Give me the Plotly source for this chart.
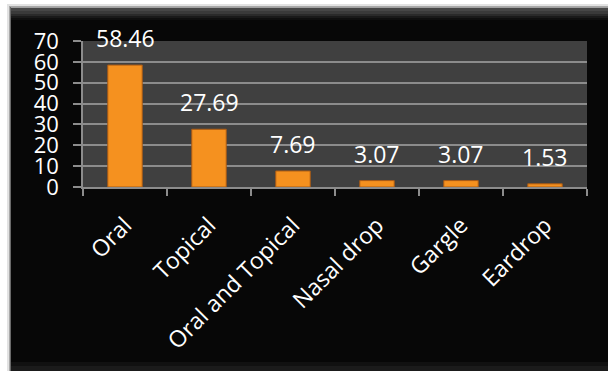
import plotly.graph_objects as go

categories = ["Oral", "Topical", "Oral and Topical", "Nasal drop", "Gargle", "Eardrop"]
values = [58.46, 27.69, 7.69, 3.07, 3.07, 1.53]
label_texts = ["58.46", "27.69", "7.69", "3.07", "3.07", "1.53"]
y_ticks = [0, 10, 20, 30, 40, 50, 60, 70]

W, H = 608, 371
L, R, T, B = 83, 21, 41, 184
PW = W - L - R
PH = H - T - B


def px(x):
    return (x - L) / PW


def py(y):
    return (H - B - y) / PH


def rect(x0, y0, x1, y1, color):
    return dict(type="rect", xref="paper", yref="paper", layer="below",
                x0=px(x0), x1=px(x1), y0=py(y1), y1=py(y0),
                fillcolor=color, line=dict(width=0))


shapes = [
    rect(7, 4, W, H, "#e2e2e2"),
    rect(9, 6, W, H, "#a8a8a8"),
    rect(10, 7, W, H, "#070707"),
    rect(10, 7, W, 8, "#a0a0a0"),
    rect(10, 8, W, 11, "#474747"),
    rect(10, 11, W, 14, "#3a3a3a"),
    rect(10, 14, W, 16, "#2a2a2a"),
    rect(10, 16, W, 18, "#1a1a1a"),
    rect(10, 18, W, 20, "#0f0f0f"),
    rect(10, 7, 11, H, "#6a6a6a"),
    rect(11, 362, W, 366, "#111111"),
    rect(11, 366, W, H, "#1b1b1b"),
    rect(L, T, L + PW, T + PH, "#404040"),
]

fig = go.Figure()
fig.add_trace(go.Bar(
    x=categories, y=values, width=0.41,
    marker=dict(color="#F5911F", line=dict(color="#A95A15", width=1)),
    hoverinfo="skip",
))

for c, v, t in zip(categories, values, label_texts):
    fig.add_annotation(x=c, y=v, text=t, showarrow=False, yanchor="middle",
                       yshift=27, font=dict(family="Open Sans", size=23, color="white"))

fig.update_layout(
    width=W, height=H,
    margin=dict(l=L, r=R, t=T, b=B, pad=0),
    paper_bgcolor="white",
    plot_bgcolor="rgba(0,0,0,0)",
    showlegend=False,
    shapes=shapes,
    font=dict(family="Open Sans", color="white"),
)
fig.update_xaxes(
    tickangle=-45, tickfont=dict(size=23, color="white", family="Open Sans"),
    ticks="outside", tickson="boundaries", ticklen=7, tickcolor="#8c8c8c", tickwidth=1.5,
    ticklabelstandoff=14,
    showline=True, linecolor="#8c8c8c", linewidth=1.5, showgrid=False,
)
fig.update_yaxes(
    range=[0, 70], tickvals=y_ticks, ticktext=[str(v) for v in y_ticks],
    tickfont=dict(size=22, color="white", family="Open Sans"),
    ticks="outside", ticklen=8, tickcolor="#8c8c8c", tickwidth=1.5,
    ticklabelstandoff=10,
    showline=True, linecolor="#8c8c8c", linewidth=1.5,
    showgrid=True, gridcolor="#8c8c8c", gridwidth=1.5, zeroline=False,
)

fig.write_html("out.html")
